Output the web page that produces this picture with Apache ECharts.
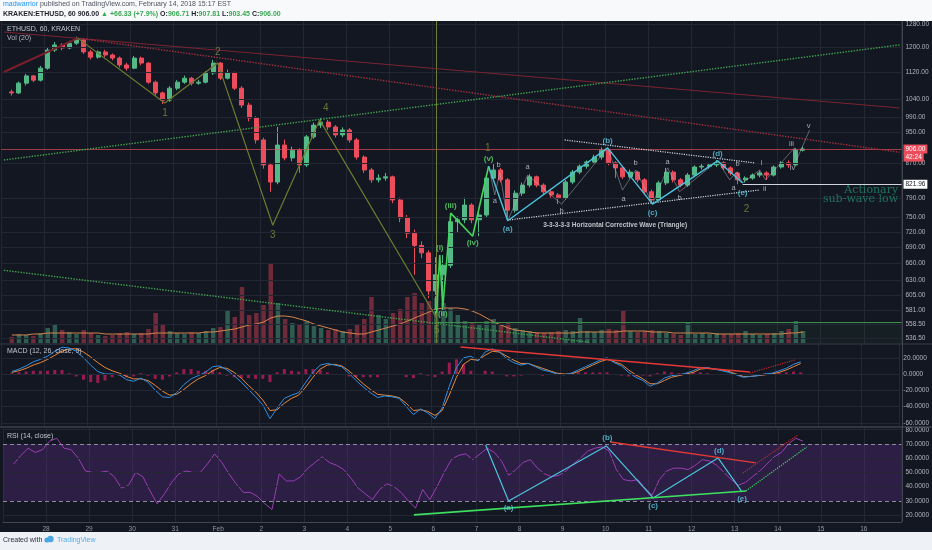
<!DOCTYPE html>
<html><head><meta charset="utf-8">
<script src="https://cdn.jsdelivr.net/npm/echarts@6/dist/echarts.min.js"></script>
<style>html,body{margin:0;padding:0;background:#131722;}#c{width:932px;height:550px;}</style>
</head><body><div id="c"></div>
<script>
// ---------- data (4-hour candles, hours from Jan 28 00:00) ----------
const dayLabels = ['28','29','30','31','Feb','2','3','4','5','6','7','8','9','10','11','12','13','14','15','16'];
const priceTicks = [536.5,558.5,581,605,630,660,690,720,750,790,870,950,990,1040,1120,1200,1280];
const macdTicks = [-60,-40,-20,0,20];
const rsiTicks = [20,30,40,50,60,70,80];

const opens = [1061,1058,1087,1109,1096,1133,1191,1208,1198,1214,
1225,1185,1168,1185,1175,1165,1143,1133,1165,1149,
1090,1058,1037,1072,1090,1102,1087,1090,1118,1149,
1102,1118,1072,1023,987,929,867,827,916,884,
903,867,937,968,976,963,942,955,929,886,
855,832,836,839,787,749,718,694,680,612,
640,657,741,745,776,745,755,836,855,832,
765,802,820,839,820,805,798,792,827,850,
864,874,886,903,872,860,839,850,832,805,
787,825,850,832,820,843,862,864,867,872,
860,848,832,836,843,848,843,862,872,867,903];
const closes = [1058,1087,1109,1096,1133,1191,1208,1198,1214,1225,
1185,1168,1185,1175,1165,1143,1133,1165,1149,1090,
1058,1037,1072,1090,1102,1087,1090,1118,1149,1102,
1118,1072,1023,987,929,867,827,916,884,903,
867,937,968,976,963,942,955,929,886,855,
832,836,839,787,749,718,694,680,612,640,
657,741,745,776,745,755,836,855,832,765,
802,820,839,820,805,798,792,827,850,864,
874,886,903,872,860,839,850,832,805,787,
825,850,832,820,843,862,864,867,872,860,
848,832,836,843,848,843,862,872,867,903,906];
const lows = [1050,1055,1080,1090,1092,1128,1185,1190,1194,1208,
1178,1160,1163,1168,1158,1135,1125,1130,1142,1085,
1050,1026,1032,1066,1085,1080,1082,1086,1112,1096,
1098,1066,1015,978,920,858,805,822,878,876,
848,862,932,960,955,935,936,922,880,848,
825,826,830,780,740,708,640,670,600,573,
580,652,720,738,738,712,750,830,826,743,
760,796,815,815,800,792,778,788,822,845,
858,870,880,866,836,834,835,826,800,778,
784,820,826,815,816,838,856,858,862,855,
842,822,826,832,838,832,840,858,860,864,900];
const highs = [1068,1092,1115,1112,1140,1200,1218,1214,1222,1236,
1230,1192,1190,1192,1180,1170,1150,1172,1170,1152,
1095,1062,1078,1096,1110,1106,1097,1124,1159,1152,
1128,1122,1078,1030,992,935,872,963,930,912,
908,942,975,990,982,968,962,960,934,890,
860,845,848,842,792,755,725,702,685,672,
676,759,752,792,780,760,842,869,860,836,
808,826,845,842,824,810,802,832,855,868,
878,892,910,906,876,864,856,853,836,810,
830,860,854,836,848,866,870,872,879,876,
864,851,840,847,853,852,866,876,878,908,912];
const volumes = [6,9,8,7,10,15,18,13,11,9,
13,10,8,7,8,10,11,9,10,14,
30,18,12,10,9,11,10,12,15,16,
33,26,56,28,30,38,80,40,24,20,
18,22,17,15,13,14,12,14,18,24,
46,28,24,30,34,46,50,40,42,45,
40,35,28,22,20,18,22,24,18,20,
15,13,12,11,10,11,12,13,12,25,
12,11,13,14,13,33,12,11,12,13,
12,10,9,8,20,9,10,9,10,9,
9,10,12,9,8,9,10,12,14,22,12];
const volMA = [8,8,8,9,9,10,10,10,10,10,
10,10,10,9,9,9,9,9,9,9,
10,10,10,10,10,10,10,11,11,12,
13,14,16,18,19,21,25,27,27,26,
24,22,19,17,15,13,11,10,9,9,
11,13,15,17,19,22,25,28,31,34,
35,35,35,34,32,29,25,21,18,15,
13,12,11,10,10,10,10,10,10,11,
11,11,11,11,11,12,12,12,12,11,
11,11,10,10,10,10,10,10,9,9,
9,9,9,9,9,9,9,9,10,10,11];
const macd = [3,6,10,15,18,22,28,33,32,28,
20,11,3,0,0,-1,-7,-9,-5,-10,
-20,-28,-29,-23,-13,-6,-2,2,9,10,
5,-2,-10,-19,-28,-38,-55,-42,-30,-26,
-23,-10,2,11,13,11,9,1,-8,-16,
-23,-29,-27,-28,-30,-40,-50,-43,-48,-55,
-42,-15,8,20,22,16,27,31,27,19,
14,11,13,9,5,3,0,-1,1,5,
9,13,17,20,14,10,2,-4,-8,-15,
-11,-5,-2,-1,1,4,8,8,6,4,
2,-1,-4,-3,-2,0,1,4,7,12,15];
const signal = [2,4,7,11,14,18,23,28,31,31,
27,21,14,8,4,1,-3,-6,-6,-8,
-14,-21,-26,-25,-19,-12,-6,-2,4,8,
7,2,-5,-14,-22,-32,-45,-44,-36,-30,
-26,-16,-4,6,11,12,10,4,-4,-12,
-19,-25,-26,-27,-29,-36,-45,-44,-46,-51,
-45,-26,-4,12,18,17,23,28,27,22,
17,13,13,10,7,4,1,0,0,3,
7,11,15,18,15,12,5,-1,-6,-12,
-12,-8,-4,-2,0,2,6,7,6,5,
3,0,-3,-3,-2,-1,0,2,5,9,13];
const hist = [1,2,3,4,4,4,5,5,1,-3,
-7,-10,-11,-8,-4,-2,-4,-3,1,-2,
-6,-7,-3,2,6,6,4,4,5,2,
-2,-4,-5,-5,-6,-6,-10,2,6,4,
3,6,6,5,2,-1,-1,-3,-4,-4,
-4,-4,-1,-1,-1,-4,-5,1,-2,-4,
3,14,18,12,4,-1,4,3,0,-3,
-3,-2,0,-1,-2,-1,-1,-1,1,2,
2,2,2,2,-1,-2,-3,-3,-2,-3,
1,3,2,1,1,2,2,1,0,-1,
-1,-1,-1,0,0,1,1,2,2,3,2];
const rsi = [56,62,67,64,66,72,74,67,66,60,
51,50,50,51,47,39,41,50,47,37,
28,35,43,49,51,50,50,56,63,57,
49,42,36,36,33,28,24,49,44,44,
47,53,57,61,57,55,52,46,39,35,
31,38,42,40,36,30,25,38,31,40,
50,59,62,63,59,63,67,64,58,48,
52,57,59,53,49,47,48,51,56,60,
65,67,68,65,52,45,44,45,39,34,
45,51,53,53,52,55,59,58,55,50,
45,41,43,47,51,56,61,64,70,74,72];

// ---------- annotations (hour, value) ----------
const waveOlive = [[18.7,1231],[67.1,1029],[96.6,1149],[127.2,734],[153.3,982],[218.4,568]];
const waveGreen = [[218.4,576],[220.1,676],[221.8,585],[226.2,759],[238.4,712],[247.3,864]];
const waveCyan = [[247.3,864],[257.9,743],[313.5,909],[338.5,778],[374.7,877],[388.6,825]];
const subWaves = [
  [[247.3,864],[250.7,798],[253.5,850],[257.9,743]],
  [[257.9,743],[269,843],[287.9,778],[313.5,909]],
  [[313.5,909],[321.8,809],[329.1,855],[338.5,778]],
  [[338.5,778],[346.9,860],[353.5,805],[374.7,877]],
  [[374.7,877],[381.4,832],[385.3,850],[388.6,825]],
  [[388.6,825],[398.1,855],[401.4,832],[417.5,909],[418.6,879],[425.9,955]]
];
const triUpper = [[289.6,929],[395.3,872]];
const triLower = [[259,745],[398,809]];
const redSolid = [[-22.4,1252],[475.9,1015]];
const redDotted = [[18.7,1231],[475.9,898]];
const redThick = [[-22.4,1121],[18.7,1231]];
const greenDotUp = [[-22.4,879],[475.9,1208]];
const greenDotDown = [[-22.4,648],[303.5,531]];
const olivePts = [[67.2,1001,'1'],[96.6,1185,'2'],[127.2,714,'3'],[156.7,1015,'4'],[218.4,549,'5'],[246.8,909,'1'],[390.8,767,'2']];
const greenPts = [[220.1,689,'(i)'],[221.8,574,'(ii)'],[226.2,774,'(iii)'],[238.4,699,'(iv)'],[247.3,881,'(v)']];
const cyanPts = [[257.9,726,'(a)'],[313.5,926,'(b)'],[338.5,759,'(c)'],[374.7,894,'(d)'],[388.6,802,'(e)']];
const smallPts = [[252.8,867,'b'],[250.7,785,'a'],[269,862,'a'],[287.9,763,'b'],[329.1,872,'b'],[322.4,790,'a'],[346.9,874,'a'],[353.5,792,'b'],[385.8,869,'b'],[383.6,813,'a'],[399.2,872,'i'],[400.8,811,'ii'],[415.8,920,'iii'],[416.4,860,'iv'],[425.3,965,'v']];
const rsiCyan = [[245.1,69.3],[257.9,30],[312.4,68.6],[338.5,32.1],[374.7,60.2],[388.1,36.3]];
const rsiCyanPts = [[257.9,25.1,'(a)'],[313,74.2,'(b)'],[338.5,26.5,'(c)'],[375.3,65.1,'(d)'],[388.1,31.4,'(e)']];
const rsiGreen = [[205.1,20.2],[390.3,37]];
const rsiRed = [[314.6,71.4],[395.8,56.7]];
const rsiGreenDot = [[390.3,37],[424.2,67.9]];
const rsiRedDot = [[388.6,49.6],[419.2,76.3]];
const macdRed = [[232.3,33.2],[393.6,2.5]];
const macdRedDot = [[393.6,1.2],[418.6,17.2]];

// ---------- build ----------
const T = closes.map((_, i) => -18 + 4 * i);
const UP = '#53b987', DN = '#eb4d5c';
const FONT = 'Liberation Sans, Arial, sans-serif';
const GRIDC = '#232733';
const candleData = closes.map((c, i) => [T[i], opens[i], c, lows[i], highs[i]]);
const volData = volumes.map((v, i) => ({ value: [T[i], v], itemStyle: { color: closes[i] >= opens[i] ? 'rgba(70,150,120,0.55)' : 'rgba(190,60,80,0.55)' } }));
const pairs = (arr) => arr.map((v, i) => [T[i], v]);

function lineS(data, color, width, type, xi, yi, z) {
  return { type: 'line', data: data, xAxisIndex: xi, yAxisIndex: yi, symbol: 'none', silent: true, z: z || 5,
    lineStyle: { color: color, width: width, type: type || 'solid' }, animation: false };
}
function textS(items, lbl, xi, yi) {
  return { type: 'scatter', xAxisIndex: xi, yAxisIndex: yi, symbolSize: 1, itemStyle: { color: 'rgba(0,0,0,0)' }, silent: true, z: 8,
    data: items.map(p => ({ value: [p[0], p[1]], name: p[2] })),
    label: Object.assign({ show: true, position: 'inside', formatter: p => p.name, fontFamily: FONT }, lbl) };
}
function labelS(items, color, size, weight, xi, yi) {
  return textS(items, { color: color, fontSize: size, fontWeight: weight }, xi, yi);
}
function hGrid(vals, xi, yi) {
  return { type: 'line', data: [], xAxisIndex: xi, yAxisIndex: yi, z: 1, silent: true,
    markLine: { silent: true, symbol: ['none', 'none'], label: { show: false }, animation: false,
      lineStyle: { color: GRIDC, width: 1, type: 'solid' }, data: vals.map(v => ({ yAxis: v })) } };
}
function dayLabel(v) {
  if (v < 0 || v % 24 !== 0) return '';
  return dayLabels[v / 24] || '';
}
const grids = [
  { left: 1, right: 30, top: 21, height: 322 },
  { left: 1, right: 30, top: 243, height: 100 },
  { left: 1, right: 30, top: 345, height: 81 },
  { left: 1, right: 30, top: 428, height: 94 }
];
const xAxes = grids.map((g, k) => ({
  type: 'value', gridIndex: k, min: -24, max: 477, interval: 24,
  axisTick: { show: false },
  axisLine: { show: k === 3, lineStyle: { color: '#434651' } },
  axisLabel: { show: k === 3, formatter: dayLabel, color: '#9598a1', fontSize: 6.5, margin: 4, fontFamily: FONT },
  splitLine: { show: k !== 1, lineStyle: { color: GRIDC, width: 1 } }
}));
const yLab = (vals, fmt) => ({ customValues: vals, formatter: fmt, color: '#b2b5be', fontSize: 6.5, margin: 4, fontFamily: FONT });
const yAxes = [
  { type: 'log', gridIndex: 0, min: 530, max: 1290.7, position: 'right', axisLine: { show: false }, axisTick: { show: false }, splitLine: { show: false }, axisLabel: yLab(priceTicks, v => Number(v).toFixed(2)) },
  { type: 'value', gridIndex: 1, min: 0, max: 100, show: false, splitLine: { show: false } },
  { type: 'value', gridIndex: 2, min: -64, max: 35.7, position: 'right', axisLine: { show: false }, axisTick: { show: false }, splitLine: { show: false }, axisLabel: yLab(macdTicks, v => Number(v).toFixed(4)) },
  { type: 'value', gridIndex: 3, min: 15.2, max: 81.2, position: 'right', axisLine: { show: false }, axisTick: { show: false }, splitLine: { show: false }, axisLabel: yLab(rsiTicks, v => Number(v).toFixed(4)) }
];

const boxLabel = (txt, bg, fg) => ({ show: true, position: 'end', distance: 2, formatter: txt, backgroundColor: bg, color: fg, padding: [1, 2], fontSize: 6.5, fontFamily: FONT });

const series = [
  hGrid(priceTicks, 0, 0),
  {
    type: 'candlestick', xAxisIndex: 0, yAxisIndex: 0, data: candleData, encode: { x: 0, y: [1, 2, 3, 4] },
    barWidth: 4.5, z: 4,
    itemStyle: { color: UP, color0: DN, borderColor: UP, borderColor0: DN, borderWidth: 1 },
    markLine: {
      silent: true, symbol: ['none', 'none'], animation: false,
      data: [
        { yAxis: 906, lineStyle: { color: 'rgba(235,77,92,0.65)', width: 1, type: 'solid' }, label: boxLabel('906.00', '#eb4d5c', '#fff') },
        { yAxis: 886, lineStyle: { color: 'rgba(0,0,0,0)', width: 0 }, label: boxLabel('42:24', '#eb4d5c', '#fff') },
        [{ coord: [388.6, 821.96], lineStyle: { color: '#d1d4dc', width: 1, type: 'solid' }, label: boxLabel('821.96', '#ffffff', '#131722') }, { coord: [477, 821.96] }],
        { xAxis: 218.4, lineStyle: { color: '#6e7b30', width: 1, type: 'solid' }, label: { show: false } },
        [{ coord: [218.4, 561.6], lineStyle: { color: '#3c8f4a', width: 1, type: 'solid' }, label: { show: false } }, { coord: [477, 561.6] }]
      ]
    },
    markArea: { silent: true, itemStyle: { color: 'rgba(60,143,74,0.07)' }, data: [[{ coord: [218.4, 561.6] }, { coord: [477, 530] }]] }
  },
  { type: 'bar', xAxisIndex: 1, yAxisIndex: 1, data: volData, barWidth: 4.5, silent: true, z: 2 },
  lineS(pairs(volMA), '#d9834a', 1, 'solid', 1, 1, 3),
  lineS(redThick, '#7a1f2b', 2, 'solid', 0, 0),
  lineS(redSolid, '#7a2430', 1, 'solid', 0, 0),
  lineS(redDotted, '#a5303f', 1.4, 'dotted', 0, 0),
  lineS(greenDotUp, '#3fa34d', 1.4, 'dotted', 0, 0),
  lineS(greenDotDown, '#3fa34d', 1.4, 'dotted', 0, 0),
  lineS(waveOlive, '#6e7b30', 1.2, 'solid', 0, 0),
  lineS(waveGreen, '#43d65a', 1.6, 'solid', 0, 0, 6),
  lineS(waveCyan, '#4cc3dd', 1.4, 'solid', 0, 0, 6),
  lineS(triUpper, '#d1d4dc', 1.2, 'dotted', 0, 0),
  lineS(triLower, '#d1d4dc', 1.2, 'dotted', 0, 0)
];
subWaves.forEach(sw => series.push(lineS(sw, 'rgba(180,184,192,0.6)', 0.8, 'solid', 0, 0)));
series.push(labelS(olivePts, '#7f8c3c', 10, 'normal', 0, 0));
series.push(labelS(greenPts, '#5fe06f', 8, 'bold', 0, 0));
series.push(labelS(cyanPts, '#5ccbe3', 8, 'bold', 0, 0));
series.push(labelS(smallPts, '#c9ccd4', 7.5, 'normal', 0, 0));
series.push(textS([[277.4, 734, '3-3-3-3-3 Horizontal Corrective Wave (Triangle)']],
  { position: 'right', distance: 0, color: '#e6e8ee', fontSize: 6.5, fontWeight: 'bold' }, 0, 0));
series.push(textS([[475.4, 799, 'Actionary\nsub-wave low']],
  { position: 'left', distance: 0, align: 'right', color: '#1f8a6c', fontSize: 11, lineHeight: 9.5, fontFamily: 'DejaVu Serif, Liberation Serif, serif' }, 0, 0));
// MACD
series.push(hGrid(macdTicks, 2, 2));
series.push({ type: 'bar', xAxisIndex: 2, yAxisIndex: 2, data: pairs(hist), barWidth: 3, silent: true, itemStyle: { color: 'rgba(200,30,95,0.75)' }, z: 2 });
series.push(lineS(pairs(signal), '#e8893a', 1, 'solid', 2, 2, 3));
series.push(lineS(pairs(macd), '#2f8fe6', 1, 'solid', 2, 2, 4));
series.push(lineS(macdRed, '#e53935', 1.4, 'solid', 2, 2, 6));
series.push(lineS(macdRedDot, '#c62828', 1.2, 'dotted', 2, 2, 6));
// RSI
series.push(hGrid([40, 50, 60, 80, 20], 3, 3));
series.push({
  type: 'line', xAxisIndex: 3, yAxisIndex: 3, data: pairs(rsi), symbol: 'none', silent: true, z: 4,
  lineStyle: { color: '#9a3fb3', width: 1 },
  markArea: { silent: true, itemStyle: { color: 'rgba(120,50,170,0.25)' }, data: [[{ yAxis: 30 }, { yAxis: 70 }]] },
  markLine: { silent: true, symbol: ['none', 'none'], label: { show: false }, lineStyle: { color: '#8e8aa0', type: [4, 3], width: 1 }, data: [{ yAxis: 70 }, { yAxis: 30 }] }
});
series.push(lineS(rsiCyan, '#4cc3dd', 1.2, 'solid', 3, 3, 6));
series.push(lineS(rsiGreen, '#3ee060', 1.6, 'solid', 3, 3, 6));
series.push(lineS(rsiRed, '#e53935', 1.4, 'solid', 3, 3, 6));
series.push(lineS(rsiGreenDot, '#3ee060', 1.2, 'dotted', 3, 3, 6));
series.push(lineS(rsiRedDot, '#c62828', 1.2, 'dotted', 3, 3, 6));
series.push(labelS(rsiCyanPts, '#5ccbe3', 8, 'bold', 3, 3));

const chart = echarts.init(document.getElementById('c'));
chart.setOption({
  backgroundColor: '#131722',
  animation: false,
  grid: grids, xAxis: xAxes, yAxis: yAxes, series: series,
  graphic: [
    { type: 'rect', shape: { x: 0, y: 0, width: 932, height: 21 }, style: { fill: '#f8f9fb' }, z: 100 },
    { type: 'text', x: 3, y: 1, z: 101, style: { text: '{u|madwarrior} published on TradingView.com, February 14, 2018 15:17 EST', fill: '#50535e', font: '7px ' + FONT, rich: { u: { fill: '#2196f3', fontSize: 7 } } } },
    { type: 'text', x: 3, y: 10.5, z: 101, style: { text: '{b|KRAKEN:ETHUSD, 60} {k|906.00} {g|▲ +66.33 (+7.9%)} {k|O:}{g|906.71} {k|H:}{g|907.81} {k|L:}{g|903.45} {k|C:}{g|906.00}', fill: '#222', font: 'bold 7px ' + FONT,
      rich: { b: { fill: '#1e2028', fontWeight: 'bold', fontSize: 7 }, k: { fill: '#1e2028', fontWeight: 'bold', fontSize: 7 }, g: { fill: '#39a853', fontWeight: 'bold', fontSize: 7 } } } },
    { type: 'rect', shape: { x: 0, y: 532, width: 932, height: 18 }, style: { fill: '#eef1f6' }, z: 100 },
    { type: 'text', x: 3, y: 537, z: 101, style: { text: 'Created with', fill: '#2a2e39', font: '7px ' + FONT } },
    { type: 'circle', shape: { cx: 47, cy: 540, r: 2.6 }, style: { fill: '#4aa6e0' }, z: 101 },
    { type: 'circle', shape: { cx: 50.5, cy: 539, r: 3.2 }, style: { fill: '#4aa6e0' }, z: 101 },
    { type: 'text', x: 57, y: 537, z: 101, style: { text: 'TradingView', fill: '#55aee3', font: '7px ' + FONT } },
    { type: 'text', x: 7, y: 26, z: 50, style: { text: 'ETHUSD, 60, KRAKEN', fill: '#c3c6ce', font: '7px ' + FONT } },
    { type: 'text', x: 7, y: 35, z: 50, style: { text: 'Vol (20)', fill: '#b2b5be', font: '7px ' + FONT } },
    { type: 'text', x: 7, y: 348, z: 50, style: { text: 'MACD (12, 26, close, 9)', fill: '#c3c6ce', font: '7px ' + FONT } },
    { type: 'text', x: 7, y: 433, z: 50, style: { text: 'RSI (14, close)', fill: '#c3c6ce', font: '7px ' + FONT } },
    { type: 'line', shape: { x1: 0, y1: 344, x2: 932, y2: 344 }, style: { stroke: '#3a3e4a', lineWidth: 1 }, z: 50 },
    { type: 'line', shape: { x1: 0, y1: 427, x2: 932, y2: 427 }, style: { stroke: '#50545f', lineWidth: 1 }, z: 50 },
    { type: 'line', shape: { x1: 902.5, y1: 21, x2: 902.5, y2: 522 }, style: { stroke: '#434651', lineWidth: 1 }, z: 50 }
  ]
});
</script></body></html>
